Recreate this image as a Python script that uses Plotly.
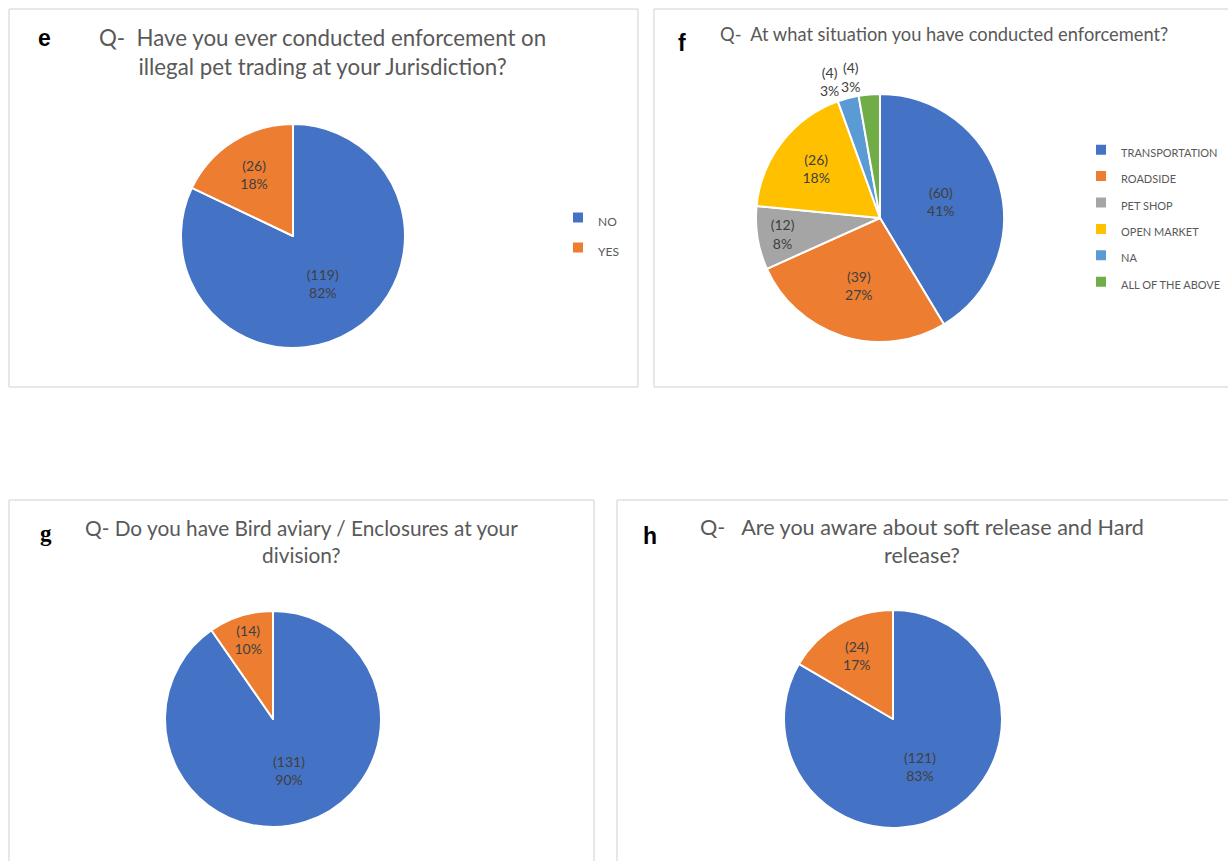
import plotly.graph_objects as go

W, H = 1228, 861

# ---------------- data ----------------
yn_labels = ["NO", "YES"]
e_values = [119, 26]
g_values = [131, 14]
h_values = [121, 24]

f_labels = ["TRANSPORTATION", "ROADSIDE", "PET SHOP", "OPEN MARKET", "NA", "ALL OF THE ABOVE"]
f_values = [60, 39, 12, 26, 4, 4]

yn_colors = ["#4472C4", "#ED7D31"]
f_colors = ["#4472C4", "#ED7D31", "#A5A5A5", "#FFC000", "#5B9BD5", "#70AD47"]

title_e = "Q-\u00a0 Have you ever conducted enforcement on<br>illegal pet trading at your Jurisdiction?"
title_f = "Q-\u00a0 At what situation you have conducted enforcement?"
title_g = "Q- Do you have Bird aviary / Enclosures at your<br>division?"
title_h = "Q-\u00a0\u00a0 Are you aware about soft release and Hard<br>release?"

# ---------------- helpers ----------------
def px(x):
    return x / W

def py(y):
    return 1 - y / H

def dom(cx, cy, r):
    return dict(x=[px(cx - r), px(cx + r)], y=[py(cy + r), py(cy - r)])

TXT = "#404040"
GRAY = "#595959"
FONT = "Lato, 'Open Sans', sans-serif"
TEMPLATE = "(%{value})<br>%{percent:.0%}"

def small(labels, size):
    # legend entry text at a small size (legend font size sets the row spacing)
    return ['<span style="font-size:%dpx">%s</span>' % (size, l) for l in labels]

def pie(labels, values, colors, domain, legend, textpos="inside", line_w=2, show=True):
    return go.Pie(
        labels=labels, values=values, sort=False, direction="clockwise", rotation=0,
        marker=dict(colors=colors, line=dict(color="white", width=line_w)),
        texttemplate=TEMPLATE,
        textposition=textpos,
        insidetextorientation="horizontal",
        textfont=dict(family=FONT, size=14, color=TXT),
        domain=domain, legend=legend, showlegend=show,
        hoverinfo="value+percent" if show else "skip",
    )

fig = go.Figure()
fig.add_trace(pie(small(yn_labels, 12), e_values, yn_colors, dom(293, 236, 112), "legend"))

f_dom = dom(880, 218, 124)
n_f = len(f_values)
f_leg_labels = small(f_labels, 11)
# main pie for panel f: labels of the two small slices handled separately so they do not get stacked
fig.add_trace(pie(f_leg_labels, f_values, f_colors, f_dom, "legend2",
                  textpos=["inside"] * (n_f - 2) + ["outside", "none"]))
fig.add_trace(pie(f_leg_labels, f_values, ["rgba(0,0,0,0)"] * n_f, f_dom, "legend2",
                  textpos=["none"] * (n_f - 1) + ["outside"], line_w=0, show=False))

fig.add_trace(pie(small(yn_labels, 12), g_values, yn_colors, dom(273, 719, 108), "legend3"))
fig.add_trace(pie(small(yn_labels, 12), h_values, yn_colors, dom(893, 719, 109), "legend4"))

def leg(x_text, ycenter, size):
    return dict(x=px(x_text - 40), y=py(ycenter), xanchor="left", yanchor="middle",
                font=dict(family=FONT, size=size, color=GRAY), bgcolor="rgba(0,0,0,0)")

shapes = []
for (x0, y0, x1, y1) in [(9, 9, 638, 387), (654, 9, 1232, 387), (9, 500, 594, 866), (617, 500, 1232, 866)]:
    shapes.append(dict(type="rect", xref="paper", yref="paper",
                       x0=px(x0), x1=px(x1), y0=py(y1), y1=py(y0),
                       line=dict(color="#D0D0D0", width=1), fillcolor="rgba(0,0,0,0)", layer="below"))

def title_ann(text, cx, cy, size):
    return dict(text=text, x=px(cx), y=py(cy), xref="paper", yref="paper",
                xanchor="center", yanchor="middle", showarrow=False, align="center",
                font=dict(family=FONT, size=size, color=GRAY))

def letter(text, cx, cy, family="Liberation Sans, Arial, sans-serif"):
    return dict(text="<b>" + text + "</b>", x=px(cx), y=py(cy), xref="paper", yref="paper",
                xanchor="center", yanchor="middle", showarrow=False,
                font=dict(family=family, size=23, color="black"))

annotations = [
    title_ann(title_e, 322, 52, 22.3),
    title_ann(title_f, 944, 34, 18.3),
    title_ann(title_g, 301, 541, 20.8),
    title_ann(title_h, 922, 541, 21.6),
    letter("e", 44, 38),
    letter("f", 682, 43),
    letter("g", 46, 533, "Liberation Serif, serif"),
    letter("h", 650, 536),
]

fig.update_layout(
    width=W, height=H, margin=dict(l=0, r=0, t=0, b=0),
    paper_bgcolor="white", plot_bgcolor="white",
    shapes=shapes, annotations=annotations,
    legend=leg(598, 233, 20.8),
    legend2=leg(1121, 216, 18),
    legend3=leg(556, 716, 19.2),
    legend4=leg(1120, 717, 19.2),
    uniformtext=dict(minsize=14, mode="show"),
)

fig.write_html("out.html")
